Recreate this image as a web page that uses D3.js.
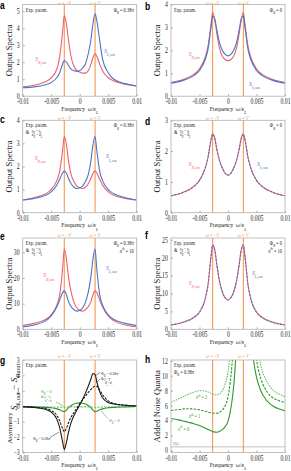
<!DOCTYPE html>
<html>
<head>
<meta charset="utf-8">
<script src="https://cdn.jsdelivr.net/npm/d3@7"></script>
<style>
body { margin: 0; background: #fff; }
svg { display: block; font-family: "Liberation Serif", "DejaVu Serif", serif; }
</style>
</head>
<body>
<script>
var W = 291, H = 471;

// frequency grid shared by panels a-g
var freq = [-0.01, -0.008, -0.006, -0.005, -0.004, -0.0035, -0.003, -0.0027, -0.0023, -0.002, -0.0015, -0.001, -0.0005, 0,
	0.0005, 0.001, 0.0015, 0.002, 0.0023, 0.0027, 0.003, 0.0035, 0.004, 0.005, 0.006, 0.008, 0.01];
var freqTicks = [-0.01, -0.005, 0, 0.005, 0.01];
var freqTickLabels = ['-0.01', '-0.005', '0', '0.005', '0.01'];
var resonances = [-0.0027, 0.0027];

// a
var aRed  = [0.55, 0.65, 0.85, 1.08, 1.6, 2.35, 3.8, 4.75, 4.2, 3.4, 2.3, 1.75, 1.5, 1.42, 1.36, 1.36, 1.5, 1.9, 2.25, 2.5, 2.35, 1.9, 1.5, 1.1, 0.9, 0.7, 0.6];
var aBlue = [0.5, 0.55, 0.68, 0.8, 1.1, 1.4, 1.9, 2.08, 2.0, 1.82, 1.6, 1.5, 1.47, 1.5, 1.65, 1.9, 2.5, 3.4, 4.2, 4.85, 4.45, 3.3, 2.2, 1.38, 1.0, 0.74, 0.6];
// b
var bRed  = [0.6, 0.72, 0.95, 1.2, 1.7, 2.2, 3.1, 3.65, 3.3, 2.8, 2.1, 1.75, 1.6, 1.55, 1.6, 1.75, 2.1, 2.8, 3.3, 3.65, 3.1, 2.2, 1.7, 1.2, 0.95, 0.72, 0.6];
var bBlue = [0.57, 0.68, 0.9, 1.12, 1.6, 2.05, 2.95, 3.5, 3.35, 2.95, 2.35, 2.0, 1.82, 1.76, 1.82, 2.0, 2.35, 2.95, 3.35, 3.5, 2.95, 2.05, 1.6, 1.12, 0.9, 0.68, 0.57];
// c
var cRed  = [0.55, 0.65, 0.82, 1.0, 1.4, 1.8, 2.7, 3.3, 2.9, 2.3, 1.65, 1.35, 1.15, 1.08, 1.05, 1.1, 1.25, 1.5, 1.7, 1.8, 1.72, 1.45, 1.2, 0.9, 0.75, 0.62, 0.55];
var cBlue = [0.55, 0.62, 0.75, 0.9, 1.2, 1.45, 1.72, 1.8, 1.7, 1.5, 1.25, 1.1, 1.05, 1.08, 1.15, 1.35, 1.65, 2.3, 2.9, 3.3, 2.7, 1.8, 1.4, 1.0, 0.82, 0.65, 0.55];
// d
var dRed  = [0.55, 0.65, 0.85, 1.05, 1.45, 1.8, 2.35, 2.55, 2.4, 2.1, 1.7, 1.45, 1.28, 1.22, 1.28, 1.45, 1.7, 2.1, 2.4, 2.55, 2.35, 1.8, 1.45, 1.05, 0.85, 0.65, 0.55];
var dBlue = [0.55, 0.65, 0.85, 1.05, 1.45, 1.8, 2.35, 2.55, 2.4, 2.1, 1.7, 1.45, 1.28, 1.22, 1.28, 1.45, 1.7, 2.1, 2.4, 2.55, 2.35, 1.8, 1.45, 1.05, 0.85, 0.65, 0.55];
// e
var eRed  = [1.5, 2.3, 3.8, 5.6, 9.5, 13.5, 23.5, 31.3, 27, 21, 14.5, 10.5, 8.3, 7.4, 7.1, 7.6, 8.8, 11, 13.3, 15, 14.3, 11.5, 8.8, 5.2, 3.3, 1.7, 1.0];
var eBlue = [1.0, 1.7, 3.3, 5.2, 8.8, 11.5, 14.3, 15, 13.3, 11, 8.8, 7.6, 7.1, 7.4, 8.3, 10.5, 14.5, 21, 27, 31.3, 23.5, 13.5, 9.5, 5.6, 3.8, 2.3, 1.5];
// f
var fRed  = [1.2, 1.9, 3.3, 4.8, 8.5, 12.5, 20, 23.5, 22, 18.5, 13.5, 10.5, 8.8, 8.2, 8.8, 10.5, 13.5, 18.5, 22, 23.5, 20, 12.5, 8.5, 4.8, 3.3, 1.9, 1.2];
var fBlue = [1.2, 1.9, 3.3, 4.8, 8.5, 12.5, 20, 23.5, 22, 18.5, 13.5, 10.5, 8.8, 8.2, 8.8, 10.5, 13.5, 18.5, 22, 23.5, 20, 12.5, 8.5, 4.8, 3.3, 1.9, 1.2];
// g asymmetry
var gBlack     = [-0.04, -0.08, -0.2, -0.38, -0.85, -1.4, -2.3, -2.8, -2.3, -1.75, -1.05, -0.6, -0.25, 0.08, 0.45, 0.85, 1.3, 1.8, 2.12, 2.05, 1.6, 0.95, 0.55, 0.25, 0.15, 0.06, 0.03];
var gBlackDash = [-0.03, -0.06, -0.15, -0.28, -0.6, -0.95, -1.45, -1.65, -1.4, -1.1, -0.7, -0.4, -0.12, 0.15, 0.4, 0.65, 0.9, 1.1, 1.22, 1.3, 1.3, 1.05, 0.75, 0.35, 0.18, 0.07, 0.03];
var gGreen     = [-0.02, -0.04, -0.07, -0.1, -0.17, -0.23, -0.32, -0.35, -0.25, -0.1, 0.05, 0.15, 0.2, 0.22, 0.2, 0.15, 0.05, -0.1, -0.25, -0.35, -0.32, -0.23, -0.17, -0.1, -0.07, -0.04, -0.02];
var gGreenDash = [-0.02, -0.03, -0.04, -0.05, -0.05, -0.06, -0.06, -0.06, -0.05, -0.05, -0.04, -0.04, -0.04, -0.04, -0.04, -0.04, -0.04, -0.05, -0.05, -0.06, -0.06, -0.06, -0.05, -0.05, -0.04, -0.03, -0.02];
// h added noise, two branches each
var hLeftFreq  = [-0.01, -0.009, -0.008, -0.007, -0.006, -0.005, -0.004, -0.003, -0.0025, -0.002, -0.0015, -0.001, -0.0005, 0, 0.0004, 0.0008, 0.0012, 0.0016];
var hN0Left    = [4.3, 4.15, 4.0, 3.8, 3.6, 3.35, 3.0, 2.65, 2.5, 2.45, 2.55, 2.8, 3.2, 3.9, 5.2, 7.2, 10.5, 16];
var hN1Left    = [5.35, 5.45, 5.55, 5.6, 5.55, 5.45, 5.25, 5.05, 5.0, 5.0, 5.1, 5.4, 6.0, 7.2, 9.2, 12.5, 18, 28];
var hN2Left    = [6.45, 6.8, 7.15, 7.5, 7.8, 8.0, 7.95, 7.65, 7.5, 7.45, 7.55, 8.0, 8.9, 10.5, 13.5, 19, 28, 40];
var hRightFreq = [0.004, 0.0045, 0.005, 0.0055, 0.006, 0.0065, 0.007, 0.008, 0.009, 0.01];
var hN0Right   = [16, 12, 9.8, 8.5, 7.6, 7.0, 6.5, 5.9, 5.55, 5.3];
var hN1Right   = [25, 16, 12.2, 10.3, 9.1, 8.3, 7.7, 7.0, 6.65, 6.4];
var hN2Right   = [40, 25, 15, 12.3, 10.7, 9.7, 9.0, 8.0, 7.55, 7.2];
var sqlLevel = 0.5;

var red = '#ee5f6b', blue = '#4677c6', orange = '#f6a05c',
	green = '#2e962e', lightGreen = '#6cbf6c', black = '#1a1a1a';

var svg = d3.select('body').append('svg')
	.attr('width', W)
	.attr('height', H);

function it(s) { return '<tspan font-style="italic">' + s + '</tspan>'; }
function sub(s) { return '<tspan baseline-shift="sub" font-size="0.68em">' + s + '</tspan>'; }
function sup(s) { return '<tspan baseline-shift="super" font-size="0.68em">' + s + '</tspan>'; }

var phi38 = 'Φ' + sub(it('B')) + ' = 0.38' + it('π');
var phi0 = 'Φ' + sub(it('B')) + ' = 0';
var nth10 = it('n') + sup('th') + ' = 10';

// horizontal text, squeezed like the original figure
function label(parent, x, y, html, size, anchor, fill) {
	return parent.append('text')
		.attr('transform', 'translate(' + x + ',' + y + ') scale(0.8,1)')
		.attr('font-size', size)
		.attr('text-anchor', anchor || 'start')
		.attr('fill', fill || '#222')
		.html(html);
}

function vlabel(parent, x, y, html, size, stretch) {
	return parent.append('text')
		.attr('transform', 'translate(' + x + ',' + y + ') rotate(-90) scale(' + (stretch || 1.15) + ',1)')
		.attr('font-size', size)
		.attr('text-anchor', 'middle')
		.attr('fill', '#222')
		.html(html);
}

var colL = [22.7, 136.7], colR = [171, 285];
var rowY = [[4.5, 96.2], [120.3, 212.7], [238, 329.3], [360, 452.5]];
var resLabelY = [4.6, 119.6, 236.8, 357.5];

function drawPanel(p) {
	var col = p.col === 0 ? colL : colR;
	var top = rowY[p.row][0], bottom = rowY[p.row][1];
	var x = d3.scaleLinear().domain([-0.01, 0.01]).range(col);
	var y = d3.scaleLinear().domain(p.yDomain).range([bottom, top]);
	var g = svg.append('g');

	g.append('clipPath').attr('id', 'clip-' + p.id)
		.append('rect')
		.attr('x', col[0]).attr('y', top)
		.attr('width', col[1] - col[0]).attr('height', bottom - top);

	// axes
	var xa = g.append('g')
		.attr('transform', 'translate(0,' + bottom + ')')
		.call(d3.axisBottom(x).tickValues(freqTicks)
			.tickFormat(function(d, i) { return freqTickLabels[i]; })
			.tickSizeInner(-2).tickSizeOuter(0).tickPadding(3));
	var ya = g.append('g')
		.attr('transform', 'translate(' + col[0] + ',0)')
		.call(d3.axisLeft(y).tickValues(p.yTicks)
			.tickFormat(d3.format('d'))
			.tickSizeInner(-2).tickSizeOuter(0).tickPadding(4));
	[xa, ya].forEach(function(a) {
		a.attr('font-family', null).attr('font-size', null);
		a.select('.domain').remove();
		a.selectAll('line').attr('stroke', '#777').attr('stroke-width', 0.6);
		a.selectAll('text')
			.attr('font-size', 7.2)
			.attr('fill', '#1e1e1e')
			.attr('transform', 'scale(0.8,1)');
	});

	// resonance lines
	resonances.forEach(function(v, i) {
		g.append('line')
			.attr('x1', x(v)).attr('x2', x(v))
			.attr('y1', top).attr('y2', bottom)
			.attr('stroke', orange).attr('stroke-width', 1.2);
		label(g, x(v), resLabelY[p.row], it('ω') + ' = ' + (i === 0 ? '−' : '') + it('V'), 5.6, 'middle', orange);
	});

	var line = d3.line()
		.curve(d3.curveMonotoneX)
		.x(function(d) { return x(d[0]); })
		.y(function(d) { return y(d[1]); });

	var plot = g.append('g').attr('clip-path', 'url(#clip-' + p.id + ')');
	p.series.forEach(function(s) {
		var pts = s.x.map(function(v, i) { return [v, s.y[i]]; });
		plot.append('path')
			.attr('d', line(pts))
			.attr('fill', 'none')
			.attr('stroke', s.color)
			.attr('stroke-width', s.width || 1.1)
			.attr('stroke-dasharray', s.dash || null);
	});

	// frame
	g.append('rect')
		.attr('x', col[0]).attr('y', top)
		.attr('width', col[1] - col[0]).attr('height', bottom - top)
		.attr('fill', 'none').attr('stroke', '#b0b0b0').attr('stroke-width', 0.8);

	// axis titles
	var cx = (col[0] + col[1]) / 2;
	label(g, cx, bottom + 14.5, 'Frequency&#160;&#160;' + it('ω') + '/' + it('κ') + sub(it('L')), 7, 'middle');
	if (p.ylabel) vlabel(g, col[0] - 11, (top + bottom) / 2, p.ylabel, 7.5);

	// panel letter
	svg.append('text')
		.attr('transform', 'translate(' + (p.col === 0 ? 0 : 145) + ',' + p.letterY + ') scale(0.85,1)')
		.attr('font-family', 'Liberation Sans, Arial, sans-serif')
		.attr('font-weight', 'bold')
		.attr('font-size', 10)
		.text(p.id);

	// annotation texts
	label(g, col[0] + 3, top + 7, 'Exp. param.', 5.6);
	if (p.equal) {
		label(g, col[0] + 3, top + 14, '&amp;', 5.6);
		label(g, col[0] + 9, top + 11.5, it('γ') + sub(it('R')) + ' = ' + it('γ') + sub(it('L')), 4.6);
		label(g, col[0] + 9, top + 15.5, it('κ') + sub(it('R')) + ' = ' + it('κ') + sub(it('L')), 4.6);
	}
	(p.topRight || []).forEach(function(t, i) {
		label(g, col[1] - 3, top + 7 + i * 7.5, t, 5.6, 'end');
	});

	return { x: x, y: y, g: g };
}

function series(xs, ys, color, dash, width) {
	return { x: xs, y: ys, color: color, dash: dash, width: width };
}

var spectraTitle = 'Output Spectra';

var pa = drawPanel({ id: 'a', col: 0, row: 0, letterY: 9, yDomain: [0, 5.4], yTicks: [0, 1, 2, 3, 4, 5],
	ylabel: spectraTitle, topRight: [phi38],
	series: [series(freq, aRed, red), series(freq, aBlue, blue)] });
var pb = drawPanel({ id: 'b', col: 1, row: 0, letterY: 9.5, yDomain: [0, 4], yTicks: [0, 1, 2, 3, 4],
	ylabel: spectraTitle, topRight: [phi0],
	series: [series(freq, bRed, red), series(freq, bBlue, blue)] });
var pc = drawPanel({ id: 'c', col: 0, row: 1, letterY: 123, yDomain: [0, 4], yTicks: [0, 1, 2, 3, 4],
	ylabel: spectraTitle, equal: true, topRight: [phi38],
	series: [series(freq, cRed, red), series(freq, cBlue, blue)] });
var pd = drawPanel({ id: 'd', col: 1, row: 1, letterY: 125, yDomain: [0, 3], yTicks: [0, 1, 2, 3],
	ylabel: spectraTitle, equal: true, topRight: [phi0],
	series: [series(freq, dRed, red), series(freq, dBlue, blue, '2,1.6')] });
var pe = drawPanel({ id: 'e', col: 0, row: 2, letterY: 240, yDomain: [0, 35.6], yTicks: [0, 10, 20, 30],
	ylabel: spectraTitle, equal: true, topRight: [phi38, nth10],
	series: [series(freq, eRed, red), series(freq, eBlue, blue)] });
var pf = drawPanel({ id: 'f', col: 1, row: 2, letterY: 239, yDomain: [0, 25.5], yTicks: [0, 5, 10, 15, 20, 25],
	ylabel: spectraTitle, equal: true, topRight: [phi0, nth10],
	series: [series(freq, fRed, red), series(freq, fBlue, blue, '2,1.6')] });
var pg = drawPanel({ id: 'g', col: 0, row: 3, letterY: 364, yDomain: [-3, 3], yTicks: [-3, -2, -1, 0, 1, 2, 3],
	series: [
		series(freq, gGreenDash, lightGreen, '2.2,1.2'),
		series(freq, gGreen, green),
		series(freq, gBlackDash, black, '2.5,1.2'),
		series(freq, gBlack, black)] });
var ph = drawPanel({ id: 'h', col: 1, row: 3, letterY: 363, yDomain: [-0.25, 12.1], yTicks: [0, 2, 4, 6, 8, 10, 12],
	ylabel: 'Added Noise Quanta', topRight: [],
	series: [
		series(hLeftFreq, hN2Left, lightGreen, '1.6,1'),
		series(hRightFreq, hN2Right, lightGreen, '1.6,1'),
		series(hLeftFreq, hN1Left, green, '2.5,1.3'),
		series(hRightFreq, hN1Right, green, '2.5,1.3'),
		series(hLeftFreq, hN0Left, green),
		series(hRightFreq, hN0Right, green)] });

// curve labels on spectra panels
function spec(side) { return it('S') + sub(it(side) + ',out'); }
[[pa, -0.0078, 2.1, 0.0043, 2.55],
 [pb, -0.0069, 1.75, 0.0037, 0.45],
 [pc, -0.0079, 2.3, 0.0046, 2.35],
 [pd, -0.0069, 1.52, 0.0051, 1.52],
 [pe, -0.0064, 20.3, 0.0046, 23.3],
 [pf, -0.0069, 12.5, 0.0042, 15.2]].forEach(function(r) {
	label(r[0].g, r[0].x(r[1]), r[0].y(r[2]), spec('R'), 7, 'start', red);
	label(r[0].g, r[0].x(r[3]), r[0].y(r[4]), spec('L'), 7, 'start', blue);
});

// g titles and annotations
var gg = pg.g;
vlabel(gg, 12, 428, 'Asymmetry', 6.6, 1.0);
vlabel(gg, 17, 387, it('S') + sub(it('L') + ',out') + ' − ' + it('S') + sub(it('R') + ',out'), 8.2);
label(gg, 101, 374.5, phi38, 4.8, 'start', black);
label(gg, 101, 380, '&amp; ' + it('γ') + sub(it('R')) + '=' + it('γ') + sub(it('L')), 4.2, 'start', black);
label(gg, 105, 384, it('κ') + sub(it('R')) + '=' + it('κ') + sub(it('L')), 4.2, 'start', black);
label(gg, 41, 392.5, phi0, 4.8, 'start', green);
label(gg, 41, 398, '&amp; ' + it('γ') + sub(it('R')) + '=' + it('γ') + sub(it('L')), 4.2, 'start', green);
label(gg, 45, 402, it('κ') + sub(it('R')) + '=' + it('κ') + sub(it('L')), 4.2, 'start', green);
label(gg, 109, 421.5, phi0, 4.8, 'start', green);
label(gg, 33, 440, phi38, 4.8, 'start', black);
[[100, 372.5, 95, 376, black], [100, 379, 96, 383, black],
 [56, 402, 63, 406, green], [108, 418.5, 101, 411, green],
 [50, 437.5, 59, 432, black]].forEach(function(l) {
	gg.append('line')
		.attr('x1', l[0]).attr('y1', l[1]).attr('x2', l[2]).attr('y2', l[3])
		.attr('stroke', l[4]).attr('stroke-width', 0.5);
});

// h extras
var hg = ph.g;
hg.append('line')
	.attr('x1', colR[0]).attr('x2', colR[1])
	.attr('y1', ph.y(sqlLevel)).attr('y2', ph.y(sqlLevel))
	.attr('stroke', '#9a9a9a').attr('stroke-width', 0.6);
label(hg, colR[0] + 2, ph.y(sqlLevel) - 1.5, 'SQL', 4.2, 'start', '#888');
label(hg, colR[0] + 3, rowY[3][0] + 14, phi38, 5.6);
label(hg, 196, 399, it('n') + sup('th') + ' = 2', 5.4, 'start', green);
label(hg, 189, 418, it('n') + sup('th') + ' = 1', 5.4, 'start', green);
label(hg, 178, 430.5, it('n') + sup('th') + ' = 0', 5.4, 'start', green);
</script>
</body>
</html>
